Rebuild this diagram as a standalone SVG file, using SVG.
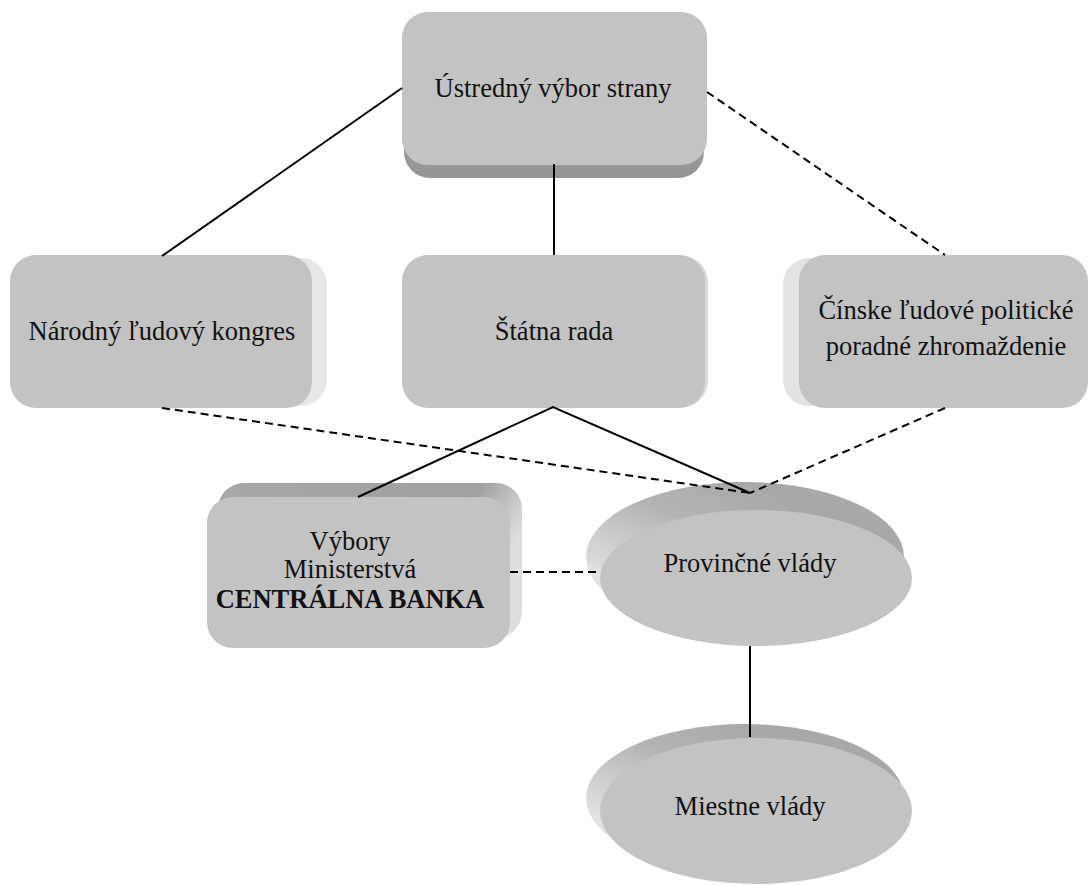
<svg xmlns="http://www.w3.org/2000/svg" width="1091" height="885" viewBox="0 0 1091 885">
<defs>
<linearGradient id="gDown" x1="0" y1="0" x2="0" y2="1"><stop offset="0" stop-color="#b0b0b0"/><stop offset="1" stop-color="#959595"/></linearGradient>
<linearGradient id="gRight" x1="0" y1="0" x2="1" y2="0"><stop offset="0" stop-color="#d0d0d0"/><stop offset="1" stop-color="#e8e8e8"/></linearGradient>
<linearGradient id="gLeft" x1="1" y1="0" x2="0" y2="0"><stop offset="0" stop-color="#c8c8c8"/><stop offset="1" stop-color="#e4e4e4"/></linearGradient>
<linearGradient id="gTopR" x1="0" y1="0" x2="1" y2="0.3"><stop offset="0" stop-color="#a8a8a8"/><stop offset="0.8" stop-color="#a0a0a0"/><stop offset="1" stop-color="#dedede"/></linearGradient>
<linearGradient id="gEll" x1="0" y1="0.6" x2="0.5" y2="0"><stop offset="0" stop-color="#e2e2e2"/><stop offset="0.6" stop-color="#b4b4b4"/><stop offset="1" stop-color="#a8a8a8"/></linearGradient>
</defs>
<style>
.face{fill:#c3c3c3}
.t{font-family:"Liberation Serif","Times New Roman",serif;font-size:26.5px;fill:#111;text-anchor:middle}
.b{font-weight:bold}
.c{stroke:#000;stroke-width:2;fill:none}
.d{stroke-dasharray:8 5}
</style>
<rect width="1091" height="885" fill="#fff"/>
<g id="ustredny">
<rect x="404" y="26" width="300" height="152" rx="26" fill="url(#gDown)"/>
<rect class="face" x="402" y="12" width="305" height="153" rx="26"/>
<text class="t" x="553" y="97">Ústredný výbor strany</text>
</g>
<g id="narodny">
<rect x="22" y="258" width="305" height="148" rx="26" fill="url(#gRight)"/>
<rect class="face" x="10" y="255" width="302" height="153" rx="26"/>
<text class="t" x="162" y="340">Národný ľudový kongres</text>
</g>
<g id="statna">
<rect x="406" y="256" width="302" height="151" rx="26" fill="#dadada"/>
<rect class="face" x="402" y="255" width="303" height="153" rx="26"/>
<text class="t" x="554" y="340">Štátna rada</text>
</g>
<g id="cinske">
<rect x="783" y="258" width="290" height="148" rx="26" fill="url(#gLeft)"/>
<rect class="face" x="799" y="255" width="289" height="153" rx="26"/>
<text class="t" x="946" y="319">Čínske ľudové politické</text>
<text class="t" x="946" y="355">poradné zhromaždenie</text>
</g>
<g id="vybory">
<rect x="218" y="483" width="304" height="155" rx="26" fill="url(#gTopR)"/>
<rect class="face" x="207" y="497" width="303" height="151" rx="26"/>
<text class="t" x="350" y="550">Výbory</text>
<text class="t" x="350" y="578">Ministerstvá</text>
<text class="t b" x="350" y="608">CENTRÁLNA BANKA</text>
</g>
<g id="provincne">
<ellipse cx="745" cy="557" rx="159" ry="75" fill="url(#gEll)"/>
<ellipse class="face" cx="756" cy="578" rx="156" ry="68"/>
<text class="t" x="750" y="572">Provinčné vlády</text>
</g>
<g id="miestne">
<ellipse cx="745" cy="798" rx="159" ry="74" fill="url(#gEll)"/>
<ellipse class="face" cx="756" cy="811" rx="156" ry="73"/>
<text class="t" x="750" y="815">Miestne vlády</text>
</g>
<g id="connectors">
<line class="c" x1="402" y1="88" x2="162" y2="256"/>
<line class="c" x1="554" y1="164" x2="554" y2="255"/>
<line class="c d" x1="707" y1="92" x2="945" y2="255"/>
<line class="c d" x1="162" y1="408" x2="750" y2="493"/>
<line class="c d" x1="945" y1="408" x2="750" y2="493"/>
<polyline class="c" points="358,497 553,407 750,493"/>
<line class="c d" x1="510" y1="572" x2="600" y2="572"/>
<line class="c" x1="750" y1="646" x2="750" y2="737"/>
</g>
</svg>
